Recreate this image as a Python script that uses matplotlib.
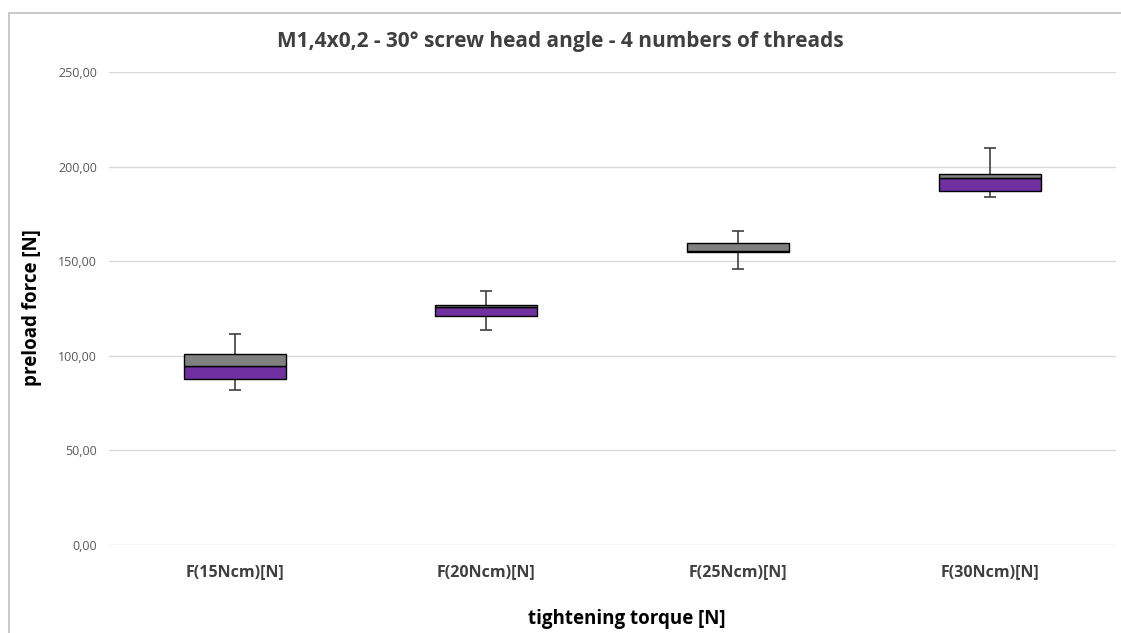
import numpy as np
import matplotlib.pyplot as plt
from matplotlib.patches import Rectangle

# --- data ---
categories = ['F(15Ncm)[N]', 'F(20Ncm)[N]', 'F(25Ncm)[N]', 'F(30Ncm)[N]']
whisker_min = [82.0, 113.6, 145.9, 184.2]
q1 = [87.7, 121.0, 154.7, 187.2]
median = [94.6, 125.8, 155.4, 193.9]
q3 = [101.1, 127.0, 159.7, 196.3]
whisker_max = [111.5, 134.3, 166.2, 210.1]
y_ticks = [0, 50, 100, 150, 200, 250]

plt.rcParams['font.family'] = ['Open Sans', 'DejaVu Sans']

x = np.arange(len(categories))
lo = np.array(whisker_min)
hi = np.array(whisker_max)
q1 = np.array(q1)
median = np.array(median)
q3 = np.array(q3)

fig = plt.figure(figsize=(11.21, 6.33), dpi=100)
ax = fig.add_axes([0.0971, 0.139, 0.898, 0.747])

# Excel-style stacked box: Q1..median purple, median..Q3 gray
w = 0.405
ax.bar(x, median - q1, w, bottom=q1, color='#7030A0', edgecolor='black', linewidth=1, zorder=3)
ax.bar(x, q3 - median, w, bottom=median, color='#808080', edgecolor='black', linewidth=1, zorder=3)

# whiskers (drawn behind the boxes, caps only at the ends)
ax.errorbar(x, median, yerr=[median - lo, hi - median], fmt='none',
            ecolor='#404040', elinewidth=1.2, capsize=4, capthick=1.2, zorder=2)

ax.set_xlim(-0.5, len(categories) - 0.5)
ax.set_ylim(0, 250)
ax.set_yticks(y_ticks)
ax.set_yticklabels([f'{v:.2f}'.replace('.', ',') for v in y_ticks], fontsize=9, color='#595959')
ax.set_xticks(x)
ax.set_xticklabels(categories, fontsize=11.5, fontweight='bold', color='#404040')
ax.tick_params(axis='both', length=0)
ax.tick_params(axis='y', pad=8.5)
ax.tick_params(axis='x', pad=14)
ax.grid(axis='y', color='#D9D9D9', linewidth=1, zorder=0)
ax.set_axisbelow(True)
for s in ax.spines.values():
    s.set_visible(False)

fig.text(560 / 1121, 1 - 41 / 633, 'M1,4x0,2 - 30° screw head angle - 4 numbers of threads',
         fontsize=15, fontweight='bold', color='#404040', ha='center', va='center')
fig.text(627 / 1121, 1 - 619 / 633, 'tightening torque [N]',
         fontsize=13.5, fontweight='bold', color='#000000', ha='center', va='center')
fig.text(32 / 1121, 1 - 308 / 633, 'preload force [N]', rotation=90,
         fontsize=13.5, fontweight='bold', color='#000000', ha='center', va='center')

# chart border
fig.patches.append(Rectangle((9 / 1121, -0.05), 1.2, 1 - 12.5 / 633 + 0.05,
                             transform=fig.transFigure, fill=False,
                             edgecolor='#BFBFBF', linewidth=1.2))

fig.savefig('out.png', dpi=100)
